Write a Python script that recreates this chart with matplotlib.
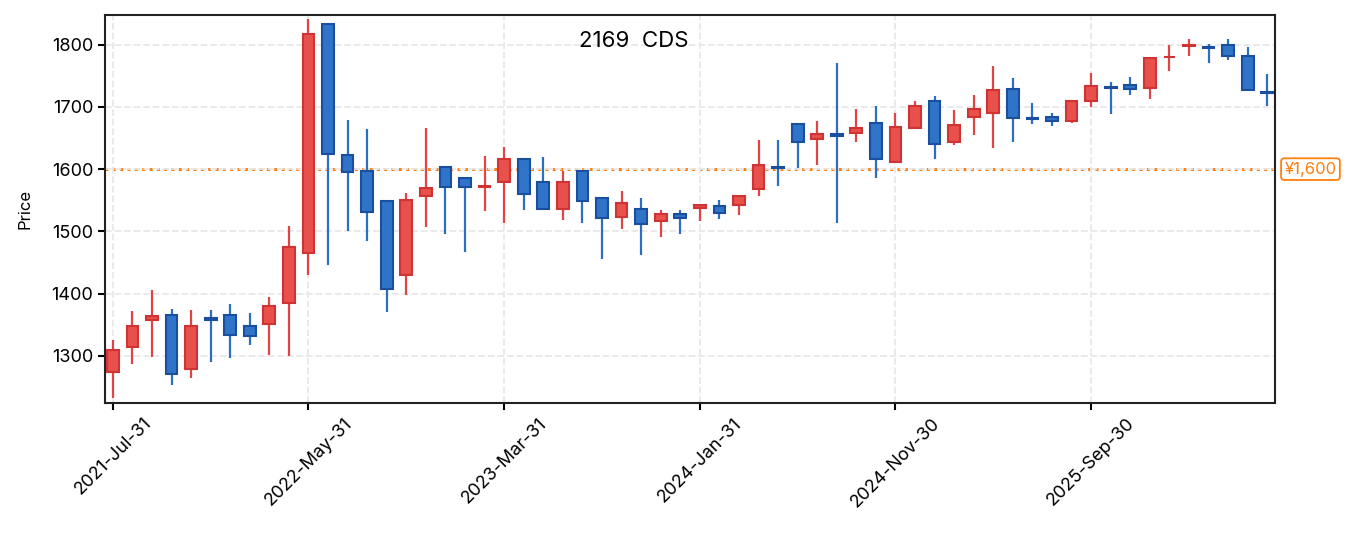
import matplotlib
matplotlib.use("Agg")
import matplotlib.pyplot as plt
import matplotlib.transforms as mtransforms
import numpy as np
import pandas as pd

plt.rcParams['font.family'] = ['Inter', 'Noto Sans CJK JP', 'DejaVu Sans']

# monthly candles, 2021-07 .. 2026-06
dates = pd.date_range("2021-07-31", periods=60, freq="ME")
opens = [1273, 1314, 1357, 1366, 1278, 1360, 1366, 1348, 1351, 1384,
         1465, 1834, 1622, 1597, 1549, 1430, 1556, 1603, 1586, 1572,
         1579, 1617, 1580, 1536, 1597, 1554, 1523, 1536, 1517, 1528,
         1537, 1540, 1542, 1568, 1604, 1673, 1648, 1656, 1658, 1675,
         1612, 1666, 1710, 1644, 1684, 1690, 1729, 1683, 1684, 1677,
         1710, 1732, 1736, 1731, 1780, 1798, 1797, 1800, 1782, 1724]
highs = [1325, 1372, 1406, 1375, 1374, 1374, 1383, 1369, 1395, 1508,
         1841, 1834, 1679, 1665, 1549, 1562, 1666, 1603, 1586, 1621,
         1635, 1617, 1620, 1597, 1597, 1554, 1565, 1554, 1535, 1535,
         1543, 1550, 1556, 1647, 1647, 1673, 1677, 1771, 1697, 1702,
         1690, 1710, 1718, 1695, 1719, 1766, 1747, 1706, 1691, 1709,
         1755, 1740, 1748, 1780, 1800, 1810, 1801, 1810, 1796, 1753]
lows = [1232, 1286, 1298, 1253, 1264, 1290, 1297, 1317, 1301, 1300,
        1430, 1446, 1501, 1485, 1371, 1398, 1507, 1496, 1466, 1532,
        1513, 1535, 1536, 1519, 1513, 1456, 1504, 1462, 1491, 1495,
        1517, 1520, 1527, 1556, 1573, 1602, 1606, 1514, 1643, 1586,
        1612, 1664, 1617, 1639, 1655, 1634, 1644, 1673, 1670, 1675,
        1700, 1689, 1720, 1713, 1758, 1782, 1771, 1776, 1727, 1702]
closes = [1309, 1348, 1364, 1271, 1348, 1358, 1333, 1332, 1380, 1475,
          1818, 1624, 1595, 1531, 1408, 1551, 1569, 1572, 1572, 1573,
          1617, 1560, 1536, 1580, 1549, 1522, 1545, 1512, 1528, 1522,
          1543, 1529, 1556, 1607, 1602, 1644, 1657, 1654, 1666, 1616,
          1667, 1702, 1640, 1671, 1697, 1728, 1683, 1681, 1677, 1709,
          1733, 1730, 1729, 1778, 1781, 1799, 1795, 1782, 1727, 1722]
ref_price = 1600
title = "2169  CDS"

opens = np.array(opens)
highs = np.array(highs)
lows = np.array(lows)
closes = np.array(closes)
x = np.arange(len(dates))
up = closes >= opens

red_face, red_edge = "#e8504c", "#d03333"
blue_face, blue_edge = "#2f74c8", "#1a4fa0"

fig, ax = plt.subplots(figsize=(13.55, 5.33), dpi=100)
fig.subplots_adjust(left=0.0775, right=0.941, top=0.972, bottom=0.244)

ax.grid(True, color="#e8e8e8", linestyle="--", linewidth=1.3, zorder=0)

ax.vlines(x[up], lows[up], highs[up], color="#e04444", linewidth=1.6, zorder=2)
ax.vlines(x[~up], lows[~up], highs[~up], color="#2a6fc4", linewidth=1.6, zorder=2)
ax.bar(x[up], closes[up] - opens[up], bottom=opens[up], width=0.6,
       color=red_face, edgecolor=red_edge, linewidth=1.5, zorder=3)
ax.bar(x[~up], closes[~up] - opens[~up], bottom=opens[~up], width=0.6,
       color=blue_face, edgecolor=blue_edge, linewidth=1.5, zorder=3)

# reference price line
ax.axhline(ref_price, color="#ff7f0e", linestyle=(0, (1, 1.4)),
           linewidth=2.2, zorder=1)
trans = mtransforms.blended_transform_factory(ax.transAxes, ax.transData)
ax.text(1.008, ref_price, "¥{:,}".format(ref_price), transform=trans,
        ha="left", va="center", color="#ff7f0e", fontsize=12,
        bbox=dict(boxstyle="round,pad=0.2", facecolor="white",
                  edgecolor="#ff7f0e", linewidth=1.3), clip_on=False)

ax.text(0.452, 0.933, title, transform=ax.transAxes, ha="center",
        va="center", fontsize=16)

ax.set_xlim(-0.4, len(dates) - 0.6)
ax.set_ylim(1224, 1848)
ax.set_yticks([1300, 1400, 1500, 1600, 1700, 1800])
ticks = x[::10]
ax.set_xticks(ticks)
ax.set_xticklabels([dates[i].strftime("%Y-%b-%d") for i in ticks],
                   rotation=45, ha="center")
ax.tick_params(labelsize=13, width=1.5, length=5)
ax.set_ylabel("Price", fontsize=12, labelpad=14)

for s in ax.spines.values():
    s.set_linewidth(1.5)
    s.set_color("#222222")

fig.savefig("out.png", dpi=100)
